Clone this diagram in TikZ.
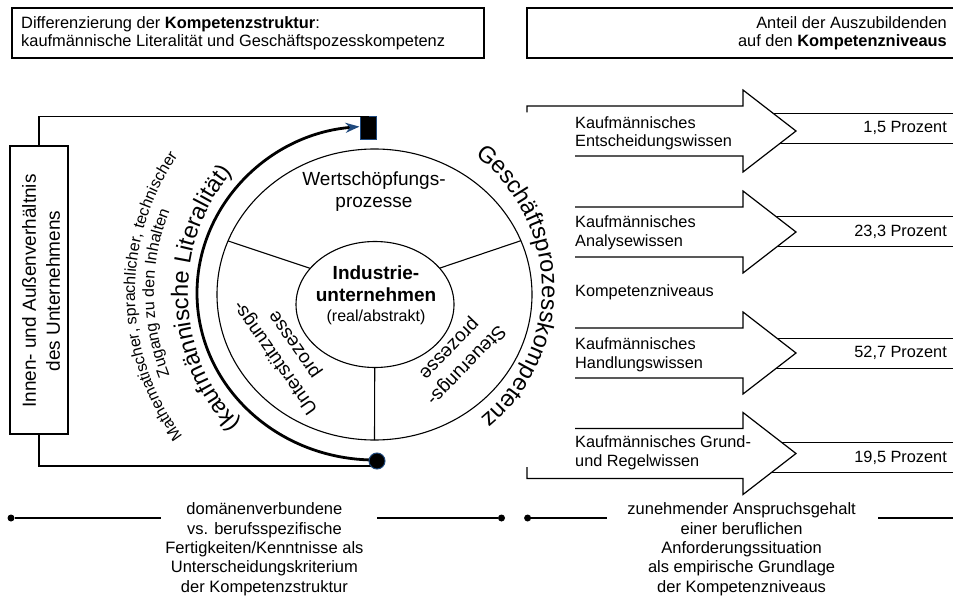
\documentclass[tikz,border=0pt]{standalone}
\usepackage{fontspec}
\setmainfont{Liberation Sans}
\usetikzlibrary{decorations.text,arrows.meta,shapes.geometric}
\definecolor{dkblue}{RGB}{31,73,125}
\newcommand\arcbig{\fontsize{23.5}{23.5}\selectfont}
\newcommand\arcsmall{\fontsize{16}{16}\selectfont}
\begin{document}
\begin{tikzpicture}[x=1pt,y=1pt,
  frame/.style={draw, line width=1.2pt, inner sep=0pt, outer sep=0pt},
  ln/.style={line width=1.2pt},
  wl/.style={line width=1.1pt},
  txa/.style={font=\fontsize{16.3}{18.7}\selectfont, inner sep=0pt},
  txb/.style={font=\fontsize{16.5}{19.4}\selectfont, inner sep=0pt, align=center},
  txw/.style={font=\fontsize{19}{22}\selectfont, inner sep=0pt, align=center},
  thickln/.style={line width=2.6pt},
  enddot/.style={circle, fill=black, inner sep=0pt, minimum size=7pt},
  markdot/.style={circle, fill=black, draw=dkblue, line width=1pt, inner sep=0pt, minimum size=16pt},
  marksq/.style={rectangle, fill=black, draw=dkblue, line width=1pt, inner sep=0pt, minimum width=16pt, minimum height=23pt},
]
\fill[white] (0,0) rectangle (953,-596);
\useasboundingbox (0,0) rectangle (953,-596);

% ---------- top boxes
\node[frame, minimum width=472pt, minimum height=50pt, anchor=north west] (tlbox) at (12,-8) {};
\node[txa, font=\fontsize{16.4}{18.5}\selectfont, anchor=west, align=left] (tltext) at (21,-33.2)
  {Differenzierung der \textbf{Kompetenzstruktur}:\\kaufmännische Literalität und Geschäftspozesskompetenz};
\node[frame, minimum width=432pt, minimum height=50pt, anchor=north west] (trbox) at (527,-8) {};
\node[txa, font=\fontsize{16.4}{18.5}\selectfont, anchor=east, align=right] (trtext) at (947,-33.2)
  {Anteil der Auszubildenden\\auf den \textbf{Kompetenzniveaus}};

% ---------- left box
\node[frame, minimum width=58pt, minimum height=288pt] (lbox) at (39,-290) {};
\node[txw, font=\fontsize{19}{24}\selectfont, rotate=90] (lboxtext) at (41,-291)
  {Innen- und Außenverhältnis\\des Unternehmens};

% ---------- wheel
\coordinate (W) at (374.5,-294.5);
\coordinate (hub) at (375,-290);
\draw[wl] (W) ellipse[x radius=157.5, y radius=145.5];
\draw[wl] ([shift={(158.4:157.5 and 145.5)}]W) -- (hub);
\draw[wl] ([shift={(21.7:157.5 and 145.5)}]W) -- (hub);
\draw[wl] ([shift={(270:157.5 and 145.5)}]W) -- (hub);
\node[draw, ellipse, wl, fill=white, minimum width=158pt, minimum height=126pt, inner sep=0pt] (core) at (375,-304.5) {};

\node[txw] (wert) at (374,-192) {Wertschöpfungs-\\prozesse};
\node[font=\fontsize{19}{22}\selectfont\bfseries, align=center, inner sep=0pt] (ind) at (376,-295.2)
  {Industrie-\\unternehmen\\[-2.5pt]{\fontsize{16}{19}\selectfont\mdseries(real/abstrakt)}};
\node[txw, font=\fontsize{19}{23.5}\selectfont, rotate=125] (unter) at (285.5,-350.8) {Unterstützungs-\\prozesse};
\node[txw, font=\fontsize{19}{23.5}\selectfont, rotate=226] (steuer) at (457.3,-356.7) {Steuerungs-\\prozesse};

% ---------- bracket, thick arc, markers
\coordinate (dotc) at (377,-461);
\coordinate (arcS) at (375,-460);
\node[marksq] (sq) at (368.5,-128.5) {};
\draw[ln] (lbox.north) |- (sq.north);
\draw[ln] (lbox.south) |- ([yshift=-5pt]dotc);
\draw[line width=2.8pt, -{Stealth[length=14pt, width=10pt, color=dkblue]}]
  (arcS) arc[start angle=270, end angle=95, x radius=178, y radius=167];
\node[markdot] (dot) at (dotc) {};

% ---------- arc texts
\coordinate (C) at (375,-293);
\coordinate (C2) at (375,-289);
\path[decorate, decoration={text along path, text align=center,
  text={|\arcbig|(kaufmännische Literalität)}}]
  ([shift={(272:187)}]C) arc[start angle=272, end angle=92, radius=187];
\path[decorate, decoration={text along path, text align=center,
  text={|\arcsmall|Mathematischer, sprachlicher, technischer}}]
  ([shift={(271:240)}]C) arc[start angle=271, end angle=91, radius=240];
\path[decorate, decoration={text along path, text align=center,
  text={|\arcsmall|Zugang zu den Inhalten}}]
  ([shift={(270:221)}]C) arc[start angle=270, end angle=90, radius=221];
\path[decorate, decoration={text along path, text align=center,
  text={|\arcbig|Geschäftsprozesskompetenz}}]
  ([shift={(91.25:167)}]C2) arc[start angle=91.25, end angle=-88.75, radius=167];

% ---------- right arrows
\foreach \c/\b in {131/128.3, 232/231.7, 353/353.3, 453.5/457.5} {
  \draw[ln] (765,-\b+15) rectangle (960,-\b-15);
  \fill[white] (575,-\c+25) -- (743,-\c+25) -- (743,-\c+41) -- (796,-\c) -- (743,-\c-41) -- (743,-\c-25) -- (575,-\c-25) -- cycle;
}
\draw[ln] (527,-112.5) -- (527,-106) -- (743,-106) -- (743,-90) -- (796,-131) -- (743,-172) -- (743,-156) -- (575,-156);
\draw[ln] (575,-207) -- (743,-207) -- (743,-191) -- (796,-232) -- (743,-273) -- (743,-257) -- (575,-257);
\draw[ln] (575,-328) -- (743,-328) -- (743,-312) -- (796,-353) -- (743,-394) -- (743,-378) -- (575,-378);
\draw[ln] (575,-428.5) -- (743,-428.5) -- (743,-412.5) -- (796,-453.5) -- (743,-494.5) -- (743,-478.5) -- (527,-478.5) -- (527,-467);

\node[txa, anchor=west, align=left] (k1) at (575,-133.3) {Kaufmännisches\\Entscheidungswissen};
\node[txa, anchor=west, align=left] (k2) at (575,-232.5) {Kaufmännisches\\Analysewissen};
\node[txa, anchor=west] (kn) at (575,-292) {Kompetenzniveaus};
\node[txa, anchor=west, align=left] (k3) at (575,-354.5) {Kaufmännisches\\Handlungswissen};
\node[txa, anchor=west, align=left] (k4) at (575,-452.5) {Kaufmännisches Grund-\\und Regelwissen};

\node[txa, anchor=east] (p1) at (947,-128.3) {1,5 Prozent};
\node[txa, anchor=east] (p2) at (947,-231.7) {23,3 Prozent};
\node[txa, anchor=east] (p3) at (947,-353.3) {52,7 Prozent};
\node[txa, anchor=east] (p4) at (947,-457.5) {19,5 Prozent};

% ---------- bottom
\node[enddot] (bl1) at (11,-518) {};
\coordinate (bl1e) at (161,-518);
\coordinate (bl2s) at (377,-518);
\node[enddot] (bl2) at (501.5,-518) {};
\draw[thickln] (bl1) -- (bl1e);
\draw[thickln] (bl2s) -- (bl2);
\node[txb] (bt1) at (264.4,-549.2) {domänenverbundene\\vs. berufsspezifische\\Fertigkeiten/Kenntnisse als\\Unterscheidungskriterium\\der Kompetenzstruktur};

\node[enddot] (br1) at (527.6,-518) {};
\coordinate (br1e) at (606.7,-518);
\coordinate (br2s) at (878.4,-518);
\coordinate (br2e) at (953,-518);
\draw[thickln] (br1) -- (br1e);
\draw[thickln] (br2s) -- (br2e);
\node[txb] (bt2) at (741.6,-549.2) {zunehmender Anspruchsgehalt\\einer beruflichen\\Anforderungssituation\\als empirische Grundlage\\der Kompetenzniveaus};
\end{tikzpicture}
\end{document}
